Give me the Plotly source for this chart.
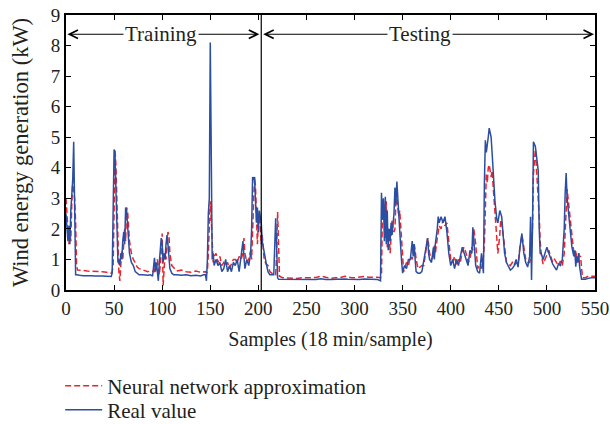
import plotly.graph_objects as go

# sample index (18 min/sample)
samples = [
    0, 1, 2, 3, 4, 5, 6, 7, 8, 9,
    10, 11, 12, 14, 18, 22, 26, 30, 34, 38,
    42, 45, 47, 48, 49, 50, 51, 52, 53, 54,
    55, 56, 57, 58, 59, 60, 61, 62, 63, 64,
    65, 66, 68, 70, 72, 74, 76, 80, 85, 88,
    90, 92, 93, 94, 95, 96, 97, 98, 99, 100,
    101, 102, 103, 104, 105, 106, 107, 108, 110, 112,
    115, 120, 125, 130, 135, 140, 143, 145, 146, 147,
    148, 149, 150, 151, 152, 153, 154, 156, 158, 160,
    162, 164, 166, 168, 170, 172, 174, 176, 178, 180,
    182, 184, 185, 186, 188, 190, 192, 193, 194, 195,
    196, 197, 198, 199, 200, 201, 202, 203, 204, 206,
    208, 210, 212, 214, 216, 218, 219, 220, 221, 222,
    225, 230, 235, 240, 245, 250, 255, 260, 265, 270,
    275, 280, 285, 290, 293, 297, 300, 305, 310, 315,
    320, 324, 327, 328, 329, 330, 331, 332, 333, 334,
    335, 336, 337, 338, 339, 340, 341, 342, 343, 344,
    345, 346, 347, 348, 349, 350, 351, 352, 354, 356,
    358, 360, 361, 362, 363, 364, 366, 368, 370, 372,
    374, 376, 377, 378, 380, 382, 383, 384, 386, 387,
    388, 390, 392, 394, 396, 398, 400, 402, 404, 406,
    408, 410, 412, 414, 416, 418, 420, 422, 423, 424,
    426, 428, 430, 432, 434, 435, 436, 437, 438, 439,
    440, 441, 442, 443, 444, 446, 448, 449, 451, 452,
    453, 455, 456, 458, 460, 462, 464, 466, 468, 470,
    472, 474, 476, 478, 480, 482, 483, 484, 485, 486,
    488, 490, 491, 492, 493, 494, 496, 498, 500, 502,
    504, 506, 508, 510, 512, 514, 516, 518, 519, 520,
    521, 522, 524, 526, 528, 529, 530, 531, 532, 533,
    534, 535, 536, 537, 540, 543, 546, 550,
]

# real value (kW)
real_value = [
    2.5, 1.9, 1.6, 2.1, 1.5, 2.6, 3.3, 3.6, 4.85, 2.0,
    0.5, 0.5, 0.5, 0.48, 0.47, 0.48, 0.47, 0.46, 0.47, 0.46,
    0.45, 0.45, 0.44, 0.55, 2.5, 4.6, 4.35, 3.0, 1.5, 0.9,
    1.0, 0.8, 1.2, 1.0, 1.6, 1.9, 1.5, 2.7, 2.6, 2.0,
    1.5, 1.2, 0.9, 0.8, 0.6, 0.55, 0.5, 0.5, 0.48, 0.5,
    0.45, 1.05, 0.6, 0.9, 0.6, 0.3, 0.9, 1.2, 1.7, 1.5,
    0.9, 1.2, 1.0, 1.5, 1.8, 1.5, 1.0, 0.7, 0.55, 0.5,
    0.5, 0.48, 0.5, 0.47, 0.48, 0.46, 0.5, 0.5, 0.3, 1.0,
    2.5, 3.0, 8.1, 2.5, 1.0, 1.2, 0.8, 1.0, 0.8, 0.9,
    0.6, 0.7, 1.0, 0.6, 0.8, 0.6, 0.9, 0.8, 1.0, 0.6,
    1.1, 1.6, 1.1, 0.7, 1.0, 0.8, 1.2, 2.0, 3.7, 3.6,
    3.7, 2.6, 2.2, 2.7, 1.9, 2.6, 2.4, 2.2, 1.6, 1.2,
    0.9, 0.6, 0.5, 0.5, 0.5, 2.35, 1.6, 0.4, 0.35, 0.35,
    0.34, 0.33, 0.33, 0.34, 0.33, 0.33, 0.34, 0.34, 0.37, 0.34,
    0.34, 0.35, 0.34, 0.36, 0.35, 0.34, 0.35, 0.34, 0.36, 0.35,
    0.35, 0.34, 0.3, 3.18, 2.3, 3.0, 1.6, 3.05, 1.5, 2.6,
    1.3, 2.0, 1.6, 2.2, 1.8, 2.1, 2.5, 3.35, 2.8, 3.55,
    2.9, 2.5, 1.9, 1.4, 0.9, 0.55, 0.7, 0.8, 0.7, 1.0,
    1.0, 1.6, 1.1, 1.5, 1.0, 0.6, 0.55, 0.55, 0.6, 1.0,
    1.3, 1.7, 1.2, 1.0, 0.9, 1.4, 1.0, 1.5, 2.0, 2.4,
    2.2, 2.4, 2.2, 2.4, 1.9, 1.2, 0.8, 1.0, 0.7, 1.0,
    0.8, 1.1, 1.4, 1.2, 1.0, 0.8, 1.3, 1.2, 2.05, 1.5,
    0.8, 0.6, 0.55, 1.2, 0.55, 3.5, 4.9, 4.5, 4.7, 5.0,
    5.3, 5.15, 5.0, 4.5, 3.9, 2.9, 2.3, 2.2, 2.6, 2.5,
    2.4, 1.6, 1.2, 0.9, 0.75, 0.65, 0.7, 0.8, 1.0, 0.75,
    1.4, 1.85, 1.2, 0.9, 0.75, 1.1, 2.4, 0.33, 2.0, 4.85,
    4.7, 4.2, 3.9, 2.0, 1.2, 1.2, 1.0, 1.2, 1.4, 1.2,
    1.0, 0.85, 0.75, 0.65, 0.85, 0.8, 1.0, 2.0, 3.2, 3.83,
    3.0, 2.7, 1.9, 1.4, 1.1, 1.3, 0.76, 1.1, 0.9, 1.2,
    0.76, 0.5, 0.35, 0.35, 0.35, 0.38, 0.4, 0.4,
]

# neural network approximation (kW)
nn_value = [
    3.0, 2.6, 1.9, 1.5, 1.9, 1.6, 2.8, 3.6, 3.2, 3.0,
    2.2, 0.8, 0.65, 0.65, 0.64, 0.62, 0.62, 0.6, 0.6, 0.6,
    0.58, 0.57, 0.55, 0.6, 0.8, 2.5, 4.6, 4.0, 2.5, 1.2,
    0.6, 0.3, 0.8, 1.3, 1.0, 1.7, 2.0, 1.6, 2.7, 2.6,
    2.0, 1.6, 1.2, 1.0, 0.9, 0.75, 0.7, 0.65, 0.6, 0.62,
    0.6, 0.6, 0.9, 0.7, 1.0, 0.7, 0.5, 0.8, 1.3, 1.85,
    0.15, 0.8, 1.2, 1.0, 1.5, 1.9, 1.8, 1.2, 0.8, 0.72,
    0.62, 0.65, 0.6, 0.58, 0.62, 0.58, 0.6, 0.6, 0.55, 0.6,
    1.2, 2.5, 2.9, 2.3, 1.5, 0.9, 1.1, 1.2, 0.9, 1.1,
    0.8, 0.9, 0.8, 0.9, 0.7, 0.85, 1.0, 1.0, 0.9, 1.1,
    1.0, 1.2, 1.7, 1.2, 0.9, 1.0, 1.3, 1.0, 1.9, 3.0,
    3.7, 3.4, 2.2, 1.5, 2.2, 2.5, 2.0, 1.5, 1.8, 1.0,
    0.85, 0.8, 0.6, 0.55, 0.5, 0.5, 1.2, 2.55, 1.5, 0.45,
    0.4, 0.39, 0.4, 0.38, 0.4, 0.39, 0.4, 0.41, 0.45, 0.42,
    0.38, 0.4, 0.41, 0.45, 0.42, 0.4, 0.4, 0.42, 0.44, 0.42,
    0.43, 0.42, 0.4, 0.5, 2.5, 2.9, 2.5, 1.7, 2.9, 1.4,
    2.0, 1.8, 1.2, 1.8, 2.3, 2.0, 1.9, 2.0, 2.9, 3.0,
    2.7, 2.4, 2.6, 2.0, 1.5, 0.9, 0.6, 0.7, 0.9, 0.8,
    1.1, 1.0, 1.3, 1.5, 1.3, 1.0, 0.7, 0.75, 0.8, 0.8,
    1.3, 1.7, 1.5, 1.2, 1.0, 1.1, 1.5, 1.2, 1.7, 1.9,
    2.1, 2.0, 2.3, 2.1, 2.2, 1.6, 1.0, 0.9, 1.1, 0.8,
    1.0, 0.9, 1.3, 1.4, 1.2, 0.9, 1.0, 1.4, 1.3, 2.0,
    1.5, 0.7, 0.8, 0.7, 1.1, 1.5, 3.0, 3.8, 3.5, 4.0,
    4.1, 3.8, 3.7, 3.9, 3.4, 2.4, 1.6, 1.2, 1.8, 2.3,
    2.2, 1.7, 1.3, 0.9, 0.85, 0.8, 0.9, 0.8, 0.9, 0.85,
    1.4, 1.8, 1.4, 1.0, 0.9, 0.9, 1.0, 1.3, 2.0, 3.8,
    4.6, 3.6, 2.8, 2.4, 1.6, 1.2, 0.85, 1.0, 1.2, 1.3,
    1.1, 0.9, 1.0, 0.9, 0.8, 0.95, 0.8, 1.2, 1.8, 2.8,
    3.3, 3.0, 2.4, 1.6, 1.2, 1.1, 1.3, 1.0, 0.9, 1.2,
    1.1, 1.1, 0.6, 0.4, 0.4, 0.45, 0.45, 0.45,
]

x_ticks = [0, 50, 100, 150, 200, 250, 300, 350, 400, 450, 500, 550]
y_ticks = [0, 1, 2, 3, 4, 5, 6, 7, 8, 9]
split_sample = 203
train_label = "Training"
test_label = "Testing"

FONT = "Liberation Serif"
TXT = "#231f20"
RED = "#e8262d"
BLUE = "#2b4ea2"

fig = go.Figure()
fig.add_trace(go.Scatter(
    x=samples, y=nn_value, mode="lines", name="Neural network approximation",
    line=dict(color=RED, width=1.5, dash="6px,3px"), legend="legend",
))
fig.add_trace(go.Scatter(
    x=samples, y=real_value, mode="lines", name="Real value",
    line=dict(color=BLUE, width=1.5), legend="legend2",
))

# vertical split line
fig.add_shape(type="line", x0=split_sample, x1=split_sample, y0=0, y1=9,
              xref="x", yref="y", line=dict(color="black", width=1.2))

arrow_y = 8.37
def arrow(x_tip, x_tail):
    fig.add_annotation(x=x_tip, y=arrow_y, ax=x_tail, ay=arrow_y,
                       xref="x", yref="y", axref="x", ayref="y",
                       text="", showarrow=True, arrowhead=5, arrowsize=1.7,
                       arrowwidth=1, arrowcolor="black")

arrow(1.5, 100)
arrow(201, 100)
arrow(205, 370)
arrow(549, 370)
fig.add_annotation(x=99, y=arrow_y, text=train_label, showarrow=False,
                   bgcolor="white", font=dict(family=FONT, size=21, color=TXT),
                   borderpad=1)
fig.add_annotation(x=368, y=arrow_y, text=test_label, showarrow=False,
                   bgcolor="white", font=dict(family=FONT, size=21, color=TXT),
                   borderpad=1)

leg_common = dict(x=-0.011, xanchor="left", yanchor="top",
                  font=dict(family=FONT, size=21, color=TXT),
                  bgcolor="rgba(0,0,0,0)", itemwidth=37)

fig.update_layout(
    width=610, height=424,
    margin=dict(l=66, r=15, t=15, b=134, autoexpand=False),
    paper_bgcolor="white", plot_bgcolor="white",
    font=dict(family=FONT, size=19, color=TXT),
    showlegend=True,
    legend=dict(y=-0.2745, **leg_common),
    legend2=dict(y=-0.3618, **leg_common),
    xaxis=dict(range=[0, 550], tickvals=x_ticks, ticks="inside", ticklen=5,
               showgrid=False, zeroline=False, showline=True, linecolor="black",
               linewidth=2, mirror="ticks", tickcolor="black", automargin=False,
               title=dict(text="Samples (18 min/sample)", font=dict(size=20), standoff=14)),
    yaxis=dict(range=[0, 9], tickvals=y_ticks, ticks="inside", ticklen=5,
               showgrid=False, zeroline=False, showline=True, linecolor="black",
               linewidth=2, mirror="ticks", tickcolor="black", automargin=False,
               title=dict(text="Wind energy generation (kW)", font=dict(size=22.5), standoff=16)),
)

fig.write_html("out.html")
